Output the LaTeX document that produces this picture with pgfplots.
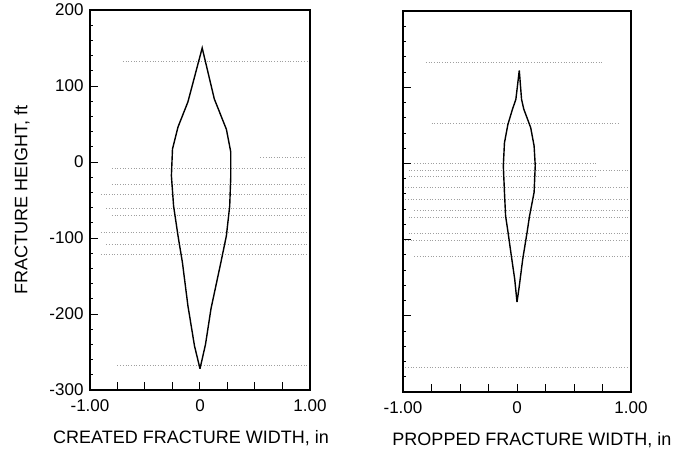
\documentclass[border=0pt]{standalone}
\usepackage{pgfplots}
\pgfplotsset{compat=1.18}
\usepackage{fontspec}
\setmainfont{Liberation Sans}
\begin{document}
\begin{tikzpicture}
\path[use as bounding box] (0pt,0pt) rectangle (681pt,459pt);
\pgfplotsset{
  panel/.style={
    scale only axis,
    anchor=south west,
    xmin=-1, xmax=1, ymin=-300, ymax=200,
    axis line style={black, line width=1.1pt},
    xtick={-1,-0.75,-0.5,-0.25,0,0.25,0.5,0.75,1},
    xticklabels={-1.00,,,,0,,,,1.00},
    ytick={-300,-200,-100,0,100,200},
    minor y tick num=4,
    xtick pos=bottom, ytick pos=left,
    tick align=inside,
    major tick length=8pt, minor tick length=3pt,
    x tick style={black, line width=1pt},
    y tick style={black, line width=0.8pt},
    tick label style={font=\fontsize{17}{19}\selectfont},
    xticklabel style={yshift=-6pt},
    yticklabel style={xshift=-3pt},
    label style={font=\fontsize{18}{21}\selectfont},
    xlabel style={yshift=-12pt},
    clip=false,
  },
  layer/.style={gray!75, dotted, line width=0.7pt},
  outline/.style={black, line width=1.4pt},
}
\begin{axis}[panel, at={(90pt,69pt)}, width=220pt, height=380pt,
  yticklabels={-300,-200,-100,0,100,200},
  xlabel={CREATED FRACTURE WIDTH, in},
  xlabel style={xshift=-9pt},
  ylabel={FRACTURE HEIGHT, ft},
  ylabel style={yshift=13pt}]
\addplot[layer] coordinates {(-0.7,133) (0.98,133)};
\addplot[layer] coordinates {(0.55,6) (0.95,6)};
\addplot[layer] coordinates {(-0.8,-8) (0.95,-8)};
\addplot[layer] coordinates {(-0.8,-29) (0.95,-29)};
\addplot[layer] coordinates {(-0.9,-42) (0.98,-42)};
\addplot[layer] coordinates {(-0.85,-61) (0.98,-61)};
\addplot[layer] coordinates {(-0.8,-70) (0.95,-70)};
\addplot[layer] coordinates {(-0.9,-92) (0.98,-92)};
\addplot[layer] coordinates {(-0.85,-108) (0.98,-108)};
\addplot[layer] coordinates {(-0.9,-121) (0.98,-121)};
\addplot[layer] coordinates {(-0.75,-267) (0.98,-267)};
\addplot[outline] coordinates {
(0,-272) (-0.05,-242) (-0.11,-189) (-0.16,-132) (-0.2,-97) (-0.24,-58)
(-0.26,-18) (-0.25,17) (-0.2,46) (-0.11,79) (0.02,150)
(0.13,83) (0.24,43) (0.28,13) (0.28,-18) (0.27,-58) (0.24,-97)
(0.19,-132) (0.1,-193) (0.05,-240) (0,-272)};
\end{axis}
\begin{axis}[panel, at={(403pt,67pt)}, width=228pt, height=381pt,
  yticklabels={},
  xlabel={PROPPED FRACTURE WIDTH, in},
  xlabel style={xshift=15pt}]
\addplot[layer] coordinates {(-0.8,133) (0.75,133)};
\addplot[layer] coordinates {(-0.75,52) (0.9,52)};
\addplot[layer] coordinates {(-0.9,0) (0.7,0)};
\addplot[layer] coordinates {(-0.95,-9) (0.98,-9)};
\addplot[layer] coordinates {(-0.95,-17) (0.7,-17)};
\addplot[layer] coordinates {(-0.98,-31) (0.98,-31)};
\addplot[layer] coordinates {(-0.98,-47) (0.98,-47)};
\addplot[layer] coordinates {(-0.9,-61) (0.98,-61)};
\addplot[layer] coordinates {(-0.95,-71) (0.98,-71)};
\addplot[layer] coordinates {(-0.95,-92) (0.98,-92)};
\addplot[layer] coordinates {(-0.98,-101) (0.98,-101)};
\addplot[layer] coordinates {(-0.9,-122) (0.98,-122)};
\addplot[layer] coordinates {(-0.98,-267) (0.98,-267)};
\addplot[outline] coordinates {
(0,-182) (-0.02,-152) (-0.05,-121) (-0.08,-89) (-0.1,-69) (-0.11,-38)
(-0.12,-3) (-0.11,27) (-0.08,51) (-0.04,71) (-0.01,84) (0.02,122)
(0.04,84) (0.06,71) (0.12,47) (0.15,23) (0.16,-3) (0.15,-38)
(0.11,-69) (0.09,-89) (0.05,-126) (0.02,-161) (0,-182)};
\end{axis}
\end{tikzpicture}
\end{document}
